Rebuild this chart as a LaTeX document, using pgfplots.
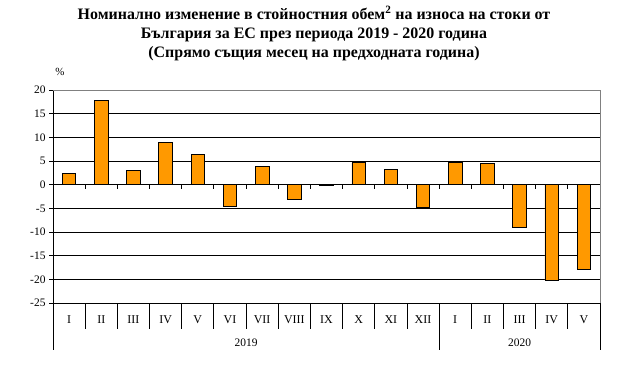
\documentclass[border=0pt]{standalone}
\usepackage{fontspec}
\setmainfont{Liberation Serif}
\usepackage{pgfplots}
\pgfplotsset{compat=1.18}
\definecolor{barorange}{RGB}{255,153,0}
\begin{document}
\begin{tikzpicture}[x=1bp,y=1bp]
\useasboundingbox (0,0) rectangle (629,383);
\node[anchor=north, align=center, inner sep=0pt, font=\bfseries\fontsize{16}{19}\selectfont] at (314,377)
 {Номинално изменение в стойностния обем\textsuperscript{2} на износа на стоки от\\
  България за ЕС през периода 2019 - 2020 година\\
  (Спрямо същия месец на предходната година)};
\node[font=\fontsize{11}{13}\selectfont] at (60,311) {\%};
\begin{axis}[
 at={(53bp,80bp)}, anchor=south west,
 scale only axis, width=547bp, height=213bp,
 xmin=-0.5, xmax=16.5, ymin=-25, ymax=20,
 axis x line*=bottom, axis y line*=left,
 axis line style={-, black, line width=0.8bp},
 ytick={-25,-20,...,20},
 ymajorgrids, grid style={black, line width=0.8bp},
 xtick={0,...,16},
 xticklabels={I,II,III,IV,V,VI,VII,VIII,IX,X,XI,XII,I,II,III,IV,V},
 x tick style={draw=none},
 y tick style={black, line width=0.8bp},
 tick align=outside, major tick length=4bp,
 tick label style={font=\fontsize{11.5}{13}\selectfont},
 xticklabel style={yshift=-5bp, font=\fontsize{12}{13}\selectfont},
 /pgf/number format/assume math mode=true,
 clip=false,
]
\addplot[ybar, fill=barorange, draw=black, line width=0.8bp, bar width=0.42] coordinates {
 (0,2.3) (1,17.8) (2,3.0) (3,8.9) (4,6.3) (5,-4.5) (6,3.8) (7,-3.2) (8,-0.2)
 (9,4.65) (10,3.2) (11,-4.9) (12,4.65) (13,4.4) (14,-9.0) (15,-20.2) (16,-17.9)};
\draw[black, line width=0.8bp] (axis cs:-0.5,0) -- (axis cs:16.5,0);
\pgfplotsinvokeforeach{0,...,16}{\draw[black, line width=0.8bp] (axis cs:#1+0.5,0) -- ([yshift=-4bp]axis cs:#1+0.5,0);}
\pgfplotsinvokeforeach{0,...,10,12,13,14,15}{\draw[black, line width=0.8bp] (axis cs:#1+0.5,-25) -- ([yshift=-26bp]axis cs:#1+0.5,-25);}
\pgfplotsinvokeforeach{-1,11,16}{\draw[black, line width=0.8bp] (axis cs:#1+0.5,-25) -- ([yshift=-47bp]axis cs:#1+0.5,-25);}
\node[font=\fontsize{11.5}{13}\selectfont] at ([yshift=-40bp]axis cs:5.5,-25) {2019};
\node[font=\fontsize{11.5}{13}\selectfont] at ([yshift=-40bp]axis cs:14,-25) {2020};
\draw[gray, line width=0.8bp] (rel axis cs:0,1) -- (rel axis cs:1,1) -- (rel axis cs:1,0);
\end{axis}
\end{tikzpicture}
\end{document}
